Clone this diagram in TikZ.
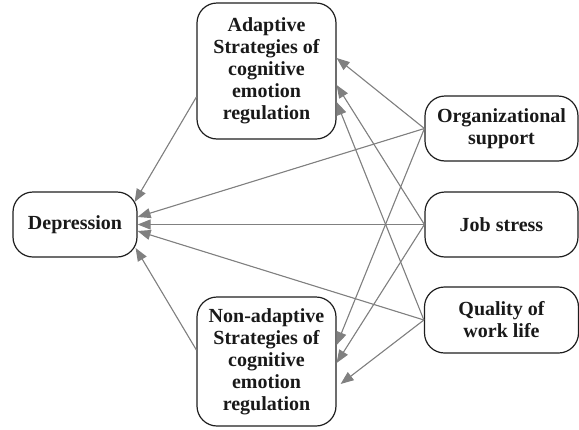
\documentclass[tikz,border=0pt]{standalone}
\usepackage{fontspec}
\setmainfont{Liberation Serif}
\usetikzlibrary{arrows.meta}
\definecolor{linegray}{RGB}{128,128,128}
\definecolor{boxline}{RGB}{30,30,30}
\tikzset{
  box/.style={draw=boxline, line width=1.2pt, rounded corners=20pt, align=center,
    inner sep=0pt, font=\fontsize{20pt}{22pt}\selectfont\bfseries, text=black!90},
  conn/.style={draw=linegray, line width=1.1pt, -{Triangle[length=13pt,width=10pt]}, fill=linegray}
}
\begin{document}
\begin{tikzpicture}[x=1pt,y=-1pt]
\useasboundingbox (0,0) rectangle (579,429);
\node[box, minimum width=139pt, minimum height=136pt] (adapt) at (266.5,71)
  {Adaptive\\Strategies of\\cognitive\\emotion\\regulation};
\node[box, minimum width=139pt, minimum height=129pt] (nonadapt) at (266.5,361.5)
  {Non-adaptive\\Strategies of\\cognitive\\emotion\\regulation};
\node[box, minimum width=124pt, minimum height=65pt] (dep) at (75,224.5) {Depression};
\node[box, minimum width=153pt, minimum height=65pt] (org) at (501.5,128.5) {Organizational\\support};
\node[box, minimum width=153pt, minimum height=65pt] (job) at (501.5,224.5) {Job stress};
\node[box, minimum width=154pt, minimum height=66pt] (qual) at (501.5,320) {Quality of\\work life};

% to Adaptive
\draw[conn] (org.west) -- ([yshift=13pt]adapt.east);
\draw[conn] (job.west) -- ([yshift=-14pt]adapt.east);
\draw[conn] (qual.west) -- ([yshift=-31pt]adapt.east);
% to Non-adaptive
\draw[conn] (org.west) -- ([yshift=16.5pt]nonadapt.east);
\draw[conn] (job.west) -- ([yshift=-1.5pt]nonadapt.east);
\draw[conn] (qual.west) -- ([xshift=4pt,yshift=-22.5pt]nonadapt.east);
% to Depression
\draw[conn] ([yshift=-26pt]adapt.west) -- ([xshift=-3pt,yshift=22.5pt]dep.east);
\draw[conn] (org.west) -- ([yshift=7.5pt]dep.east);
\draw[conn] (job.west) -- (dep.east);
\draw[conn] (qual.west) -- ([yshift=-6.5pt]dep.east);
\draw[conn] ([yshift=11.5pt]nonadapt.west) -- ([xshift=-2pt,yshift=-23.5pt]dep.east);
\end{tikzpicture}
\end{document}
